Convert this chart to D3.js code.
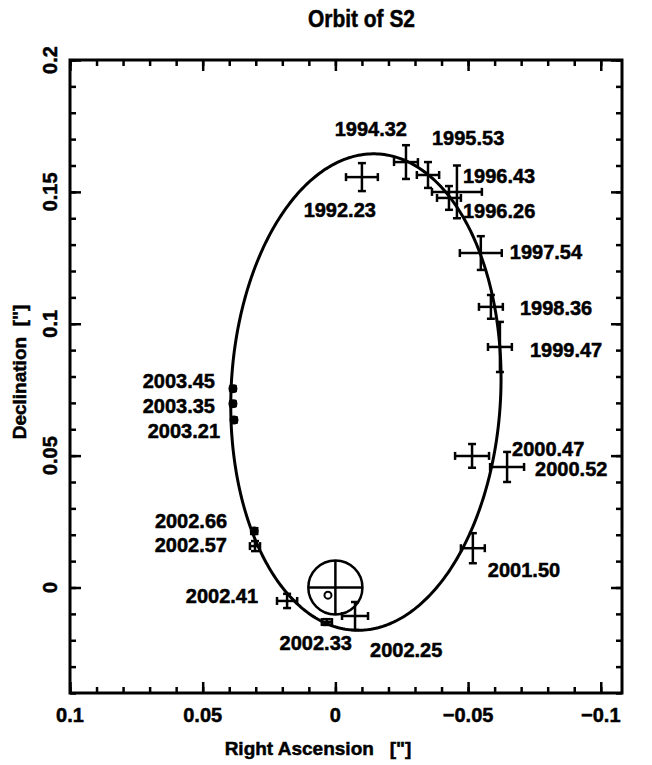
<!DOCTYPE html>
<html><head><meta charset="utf-8">
<script src="https://cdn.jsdelivr.net/npm/d3@7"></script>
<style>
body{margin:0;background:#fff}
svg text{font-family:"Liberation Sans",Arial,Helvetica,sans-serif;font-weight:bold;fill:#000;stroke:#000;stroke-width:0.5px}
</style>
</head><body>
<svg id="chart" width="652" height="765"></svg>
<script>
// ---- data ----
const epochs = ["1992.23","1994.32","1995.53","1996.43","1996.26","1997.54","1998.36","1999.47",
  "2000.47","2000.52","2001.50","2002.25","2002.33","2002.41","2002.57","2002.66","2003.21","2003.35","2003.45"];
const raValues  = [-0.0100,-0.0266,-0.0349,-0.0458,-0.0428,-0.0548,-0.0586,-0.0620,
  -0.0515,-0.0647,-0.0518,-0.0074,0.0032,0.0182,0.0303,0.0306,0.0382,0.0386,0.0386];
const decValues = [0.1556,0.1613,0.1564,0.1500,0.1477,0.1268,0.1064,0.0912,
  0.0499,0.0457,0.0149,-0.0108,-0.0131,-0.0051,0.0157,0.0214,0.0635,0.0697,0.0754];
const raErrors  = [0.0060,0.0045,0.0042,0.0094,0.0045,0.0079,0.0045,0.0045,
  0.0064,0.0064,0.0045,0.0049,0.0019,0.0038,0.0019,0.0011,0.0008,0.0008,0.0008];
const decErrors = [0.0053,0.0064,0.0049,0.0100,0.0045,0.0064,0.0045,0.0095,
  0.0045,0.0057,0.0057,0.0053,0.0011,0.0027,0.0019,0.0011,0.0008,0.0008,0.0008];

const xTickValues = [0.1,0.05,0,-0.05,-0.1];
const xTickLabels = ["0.1","0.05","0","\u22120.05","\u22120.1"];
const yTickValues = [0.2,0.15,0.1,0.05,0];
const yTickLabels = ["0.2","0.15","0.1","0.05","0"];

// fitted projected orbit (ellipse): centre RA/Dec, semi-axes, tilt
const orbitCenter = [-0.0115, 0.0741];
const orbitAxes = [0.0904, 0.0508];
const orbitTiltDeg = 2.7;
// Sgr A* position with its uncertainty circle, and the IR source
const sgrA = [0, 0, 0.0102];
const irSource = [0.0028, -0.0029];

// ---- layout (pixel label offsets relative to each point) ----
const labelLayout = [[14,40,"end"],[1,-26,"end"],[4,-30,"start"],[6,-9,"start"],[14,20,"start"],
  [29,6,"start"],[29,8,"start"],[30,10,"start"],[40,0,"start"],[28,9,"start"],[15,29,"start"],
  [15,41,"start"],[25,28,"end"],[-29,2,"end"],[-28,6,"end"],[-27,-3,"end"],[-14,18,"end"],
  [-18,9,"end"],[-18,-1,"end"]];

const svg = d3.select("#chart");
const L=70, R=622, T=60, B=693;
const x = d3.scaleLinear().domain([0.1,-0.108]).range([L,R]);
const y = d3.scaleLinear().domain([-0.04,0.2]).range([B,T]);

const xMinor = d3.range(0.1,-0.1085,-0.01).map(v=>+v.toFixed(3));
const yMinor = d3.range(-0.04,0.2001,0.01).map(v=>+v.toFixed(3));

function styleAxis(g){ g.select(".domain").remove(); g.selectAll("line").attr("stroke","#000").attr("stroke-width",2.5); g.selectAll("text").remove(); }
svg.append("g").attr("transform",`translate(0,${B})`).call(d3.axisBottom(x).tickValues(xMinor).tickSize(-6)).call(styleAxis);
svg.append("g").attr("transform",`translate(0,${B})`).call(d3.axisBottom(x).tickValues(xTickValues).tickSize(-11)).call(styleAxis);
svg.append("g").attr("transform",`translate(0,${T})`).call(d3.axisTop(x).tickValues(xMinor).tickSize(-6)).call(styleAxis);
svg.append("g").attr("transform",`translate(0,${T})`).call(d3.axisTop(x).tickValues(xTickValues).tickSize(-11)).call(styleAxis);
svg.append("g").attr("transform",`translate(${L},0)`).call(d3.axisLeft(y).tickValues(yMinor).tickSize(-6)).call(styleAxis);
svg.append("g").attr("transform",`translate(${L},0)`).call(d3.axisLeft(y).tickValues(yTickValues).tickSize(-11)).call(styleAxis);
svg.append("g").attr("transform",`translate(${R},0)`).call(d3.axisRight(y).tickValues(yMinor).tickSize(-6)).call(styleAxis);
svg.append("g").attr("transform",`translate(${R},0)`).call(d3.axisRight(y).tickValues(yTickValues).tickSize(-11)).call(styleAxis);

svg.append("rect").attr("x",L).attr("y",T).attr("width",R-L).attr("height",B-T)
  .attr("fill","none").attr("stroke","#000").attr("stroke-width",3);

// tick labels
svg.selectAll(".xl").data(xTickValues).enter().append("text")
  .attr("x",d=>x(d)).attr("y",722).attr("text-anchor","middle").attr("font-size",20)
  .text((d,i)=>xTickLabels[i]);
svg.selectAll(".yl").data(yTickValues).enter().append("text")
  .attr("transform",d=>`translate(57,${y(d)}) rotate(-90)`).attr("text-anchor","middle").attr("font-size",20)
  .text((d,i)=>yTickLabels[i]);

// titles
svg.append("text").attr("x",308).attr("y",27).attr("font-size",23)
  .attr("textLength",107).attr("lengthAdjust","spacingAndGlyphs")
  .text("Orbit of S2");
svg.append("text").attr("x",318).attr("y",755).attr("text-anchor","middle").attr("font-size",19)
  .style("white-space","pre").text("Right Ascension   [\"]");
svg.append("text").attr("transform","translate(26,372) rotate(-90)").attr("text-anchor","middle").attr("font-size",19)
  .style("white-space","pre").text("Declination  [\"]");

// orbit
const phi = orbitTiltDeg*Math.PI/180;
const m = [-Math.sin(phi), Math.cos(phi)], n = [Math.cos(phi), Math.sin(phi)];
const orbitPts = d3.range(0,360,1).map(a=>{const t=a*Math.PI/180;
  return [orbitCenter[0]+orbitAxes[0]*Math.cos(t)*m[0]+orbitAxes[1]*Math.sin(t)*n[0],
          orbitCenter[1]+orbitAxes[0]*Math.cos(t)*m[1]+orbitAxes[1]*Math.sin(t)*n[1]];});
svg.append("path").attr("d",d3.line().x(d=>x(d[0])).y(d=>y(d[1])).curve(d3.curveLinearClosed)(orbitPts))
  .attr("fill","none").attr("stroke","#000").attr("stroke-width",3);

// Sgr A* marker
const rpx = Math.abs(x(sgrA[0]) - x(sgrA[0]+sgrA[2]));
svg.append("circle").attr("cx",x(sgrA[0])).attr("cy",y(sgrA[1])).attr("r",rpx)
  .attr("fill","none").attr("stroke","#000").attr("stroke-width",2.5);
svg.append("line").attr("x1",x(sgrA[0]+sgrA[2])).attr("x2",x(sgrA[0]-sgrA[2])).attr("y1",y(sgrA[1])).attr("y2",y(sgrA[1]))
  .attr("stroke","#000").attr("stroke-width",2.5);
svg.append("line").attr("x1",x(sgrA[0])).attr("x2",x(sgrA[0])).attr("y1",y(sgrA[1]-sgrA[2])).attr("y2",y(sgrA[1]+sgrA[2]))
  .attr("stroke","#000").attr("stroke-width",2.5);
svg.append("circle").attr("cx",x(irSource[0])).attr("cy",y(irSource[1])).attr("r",3.5)
  .attr("fill","none").attr("stroke","#000").attr("stroke-width",2);

// data points with error bars
const pts = epochs.map((e,i)=>({e,ra:raValues[i],dec:decValues[i],ex:raErrors[i],ey:decErrors[i],lay:labelLayout[i]}));
const cap = 4;
const gp = svg.append("g").attr("stroke","#000").attr("stroke-width",2.5);
pts.forEach(p=>{
  const cx=x(p.ra), cy=y(p.dec), x1=x(p.ra+p.ex), x2=x(p.ra-p.ex), y1=y(p.dec+p.ey), y2=y(p.dec-p.ey);
  gp.append("line").attr("x1",x1).attr("x2",x2).attr("y1",cy).attr("y2",cy);
  gp.append("line").attr("x1",cx).attr("x2",cx).attr("y1",y1).attr("y2",y2);
  [x1,x2].forEach(xx=>gp.append("line").attr("x1",xx).attr("x2",xx).attr("y1",cy-cap).attr("y2",cy+cap));
  [y1,y2].forEach(yy=>gp.append("line").attr("x1",cx-cap).attr("x2",cx+cap).attr("y1",yy).attr("y2",yy));
  if(p.ex<0.0015) svg.append("circle").attr("cx",cx).attr("cy",cy).attr("r",4.5).attr("fill","#000");
  svg.append("text").attr("x",cx+p.lay[0]).attr("y",cy+p.lay[1]).attr("text-anchor",p.lay[2])
    .attr("font-size",20).text(p.e);
});
</script>
</body></html>
